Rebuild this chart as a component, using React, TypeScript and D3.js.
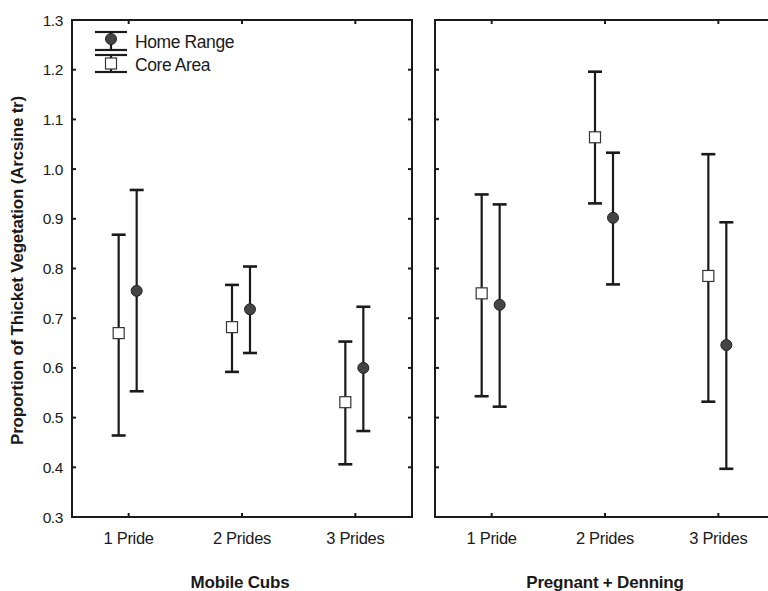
import React from "react";
import * as d3 from "d3";

const categories = ["1 Pride", "2 Prides", "3 Prides"];
const panelTitles = ["Mobile Cubs", "Pregnant + Denning"];
const yTicks = [0.3, 0.4, 0.5, 0.6, 0.7, 0.8, 0.9, 1.0, 1.1, 1.2, 1.3];

const mobileHomeMean = [0.755, 0.718, 0.6];
const mobileHomeLower = [0.553, 0.63, 0.473];
const mobileHomeUpper = [0.958, 0.804, 0.723];
const mobileCoreMean = [0.67, 0.682, 0.531];
const mobileCoreLower = [0.464, 0.592, 0.406];
const mobileCoreUpper = [0.868, 0.767, 0.653];

const pregHomeMean = [0.727, 0.902, 0.646];
const pregHomeLower = [0.522, 0.768, 0.397];
const pregHomeUpper = [0.929, 1.033, 0.893];
const pregCoreMean = [0.75, 1.064, 0.785];
const pregCoreLower = [0.543, 0.931, 0.532];
const pregCoreUpper = [0.949, 1.196, 1.03];

const FONT = "'Liberation Sans', Arial, sans-serif";

const TOP = 20;
const BOTTOM = 517;
const PANEL_W = 340;
const panelLefts = [72, 435];
const titleCenters = [240, 605];
const CAP = 7;
const TICK = 4;

type Series = { mean: number[]; lower: number[]; upper: number[] };

const panels: { home: Series; core: Series }[] = [
  {
    home: { mean: mobileHomeMean, lower: mobileHomeLower, upper: mobileHomeUpper },
    core: { mean: mobileCoreMean, lower: mobileCoreLower, upper: mobileCoreUpper },
  },
  {
    home: { mean: pregHomeMean, lower: pregHomeLower, upper: pregHomeUpper },
    core: { mean: pregCoreMean, lower: pregCoreLower, upper: pregCoreUpper },
  },
];

const y = d3.scaleLinear().domain([0.3, 1.3]).range([BOTTOM, TOP]);

function ErrorBar({ x, lo, hi }: { x: number; lo: number; hi: number }) {
  return (
    <g stroke="#1a1a1a" strokeWidth={2.2}>
      <line x1={x} x2={x} y1={y(lo)} y2={y(hi)} />
      <line x1={x - CAP} x2={x + CAP} y1={y(lo)} y2={y(lo)} strokeWidth={2.6} />
      <line x1={x - CAP} x2={x + CAP} y1={y(hi)} y2={y(hi)} strokeWidth={2.6} />
    </g>
  );
}

function Panel({ idx }: { idx: number }) {
  const left = panelLefts[idx];
  const right = left + PANEL_W;
  const x = d3.scaleBand<string>().domain(categories).range([left, right]);
  const cx = (c: string) => (x(c) as number) + x.bandwidth() / 2;
  const data = panels[idx];
  return (
    <g>
      <rect x={left} y={TOP} width={PANEL_W} height={BOTTOM - TOP} fill="none" stroke="#1a1a1a" strokeWidth={2} />
      {yTicks.slice(1, -1).map((t) => (
        <g key={t} stroke="#1a1a1a" strokeWidth={2}>
          <line x1={left} x2={left + TICK} y1={y(t)} y2={y(t)} />
          <line x1={right - TICK} x2={right} y1={y(t)} y2={y(t)} />
        </g>
      ))}
      {categories.map((c) => (
        <g key={c} stroke="#1a1a1a" strokeWidth={2}>
          <line x1={cx(c)} x2={cx(c)} y1={TOP} y2={TOP + TICK} />
          <line x1={cx(c)} x2={cx(c)} y1={BOTTOM} y2={BOTTOM - TICK} />
        </g>
      ))}
      {categories.map((c) => (
        <text key={c} x={cx(c)} y={544} textAnchor="middle" fontFamily={FONT} fontSize={16.5} letterSpacing={-0.3} fill="#1a1a1a">
          {c}
        </text>
      ))}
      <text x={titleCenters[idx]} y={588} textAnchor="middle" fontFamily={FONT} fontWeight="bold" fontSize={17} letterSpacing={-0.2} fill="#1a1a1a">
        {panelTitles[idx]}
      </text>
      {categories.map((c, i) => {
        const xc = cx(c) - 10;
        const xh = cx(c) + 8;
        return (
          <g key={c}>
            <ErrorBar x={xc} lo={data.core.lower[i]} hi={data.core.upper[i]} />
            <rect x={xc - 5.5} y={y(data.core.mean[i]) - 5.5} width={11} height={11} fill="#ffffff" stroke="#333" strokeWidth={1.2} />
            <ErrorBar x={xh} lo={data.home.lower[i]} hi={data.home.upper[i]} />
            <circle cx={xh} cy={y(data.home.mean[i])} r={5.5} fill="#444" stroke="#222" strokeWidth={1} />
          </g>
        );
      })}
    </g>
  );
}

export default function App() {
  return (
    <svg width={768} height={591} style={{ position: "absolute", left: 0, top: 0, background: "#fff" }}>
      <rect width={768} height={591} fill="#ffffff" />
      <Panel idx={0} />
      <Panel idx={1} />
      {yTicks.map((t) => (
        <text key={t} x={63} y={y(t) + 5.5} textAnchor="end" fontFamily={FONT} fontSize={15.5} letterSpacing={-0.4} fill="#1a1a1a">
          {t.toFixed(1)}
        </text>
      ))}
      <text
        transform={`translate(23, ${(TOP + BOTTOM) / 2 + 2}) rotate(-90)`}
        textAnchor="middle"
        fontFamily={FONT}
        fontWeight="bold"
        fontSize={17}
        letterSpacing={-0.2}
        fill="#1a1a1a"
      >
        Proportion of Thicket Vegetation (Arcsine tr)
      </text>
      {/* legend */}
      <g stroke="#1a1a1a" strokeWidth={2.2}>
        <line x1={95} x2={127} y1={32} y2={32} />
        <line x1={111} x2={111} y1={32} y2={50} />
        <line x1={95} x2={127} y1={50} y2={50} />
        <line x1={95} x2={127} y1={55} y2={55} />
        <line x1={111} x2={111} y1={55} y2={72} />
        <line x1={95} x2={127} y1={72} y2={72} />
      </g>
      <circle cx={111} cy={39} r={5.5} fill="#444" stroke="#222" strokeWidth={1} />
      <rect x={105.5} y={58} width={11} height={11} fill="#fff" stroke="#333" strokeWidth={1.2} />
      <text x={135} y={48} fontFamily={FONT} fontSize={17.5} letterSpacing={-0.4} fill="#1a1a1a">Home Range</text>
      <text x={135} y={71} fontFamily={FONT} fontSize={17.5} letterSpacing={-0.4} fill="#1a1a1a">Core Area</text>
    </svg>
  );
}
